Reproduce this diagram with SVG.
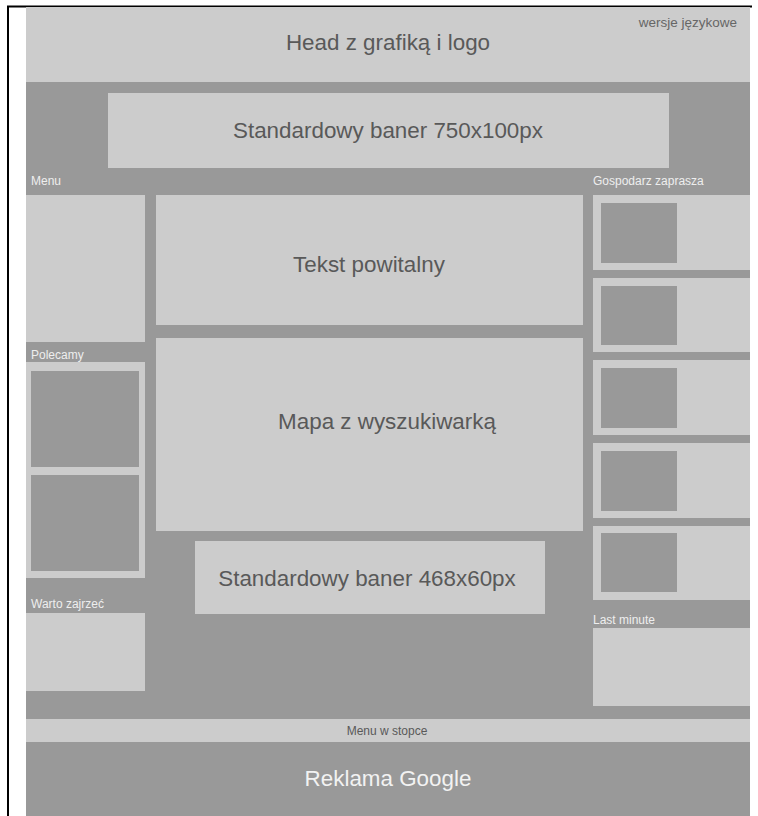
<svg xmlns="http://www.w3.org/2000/svg" width="758" height="816" viewBox="0 0 758 816">
<style>
.bg{fill:#999999}
.lt{fill:#cccccc}
.dk{fill:#999999}
.big{font-family:"Liberation Sans",Arial,sans-serif;font-size:22.4px;fill:#595959;text-anchor:middle}
.lbl{font-family:"Liberation Sans",Arial,sans-serif;font-size:12px;fill:#eeeeee}
.small{font-family:"Liberation Sans",Arial,sans-serif;font-size:12px;fill:#595959;text-anchor:middle}
</style>
<rect width="758" height="816" fill="#ffffff"/>
<rect x="26" y="7" width="724" height="809" class="bg"/>
<g id="border">
<line x1="8" y1="6" x2="8" y2="816" stroke="#000" stroke-width="2"/>
<line x1="7" y1="6.5" x2="752" y2="6.5" stroke="#000" stroke-width="2"/>
</g>
<g id="head">
<rect x="26" y="7" width="724" height="75" class="lt"/>
<text x="388" y="50" class="big">Head z grafiką i logo</text>
<text x="737" y="27" style="font-family:'Liberation Sans',Arial,sans-serif;font-size:13.5px;fill:#666666;text-anchor:end">wersje językowe</text>
</g>
<g id="banner750">
<rect x="108" y="93" width="561" height="75" class="lt"/>
<text x="388" y="138" class="big">Standardowy baner 750x100px</text>
</g>
<g id="menu">
<text x="31" y="185" class="lbl">Menu</text>
<rect x="26" y="195" width="119" height="147" class="lt"/>
</g>
<g id="tekst">
<rect x="156" y="195" width="427" height="130" class="lt"/>
<text x="369" y="272" class="big">Tekst powitalny</text>
</g>
<g id="mapa">
<rect x="156" y="338" width="427" height="193" class="lt"/>
<text x="387" y="429" class="big">Mapa z wyszukiwarką</text>
</g>
<g id="banner468">
<rect x="195" y="541" width="350" height="73" class="lt"/>
<text x="367" y="586" class="big">Standardowy baner 468x60px</text>
</g>
<g id="polecamy">
<text x="31" y="359" class="lbl">Polecamy</text>
<rect x="26" y="362" width="119" height="216" class="lt"/>
<rect x="31" y="371" width="108" height="96" class="dk"/>
<rect x="31" y="475" width="108" height="96" class="dk"/>
</g>
<g id="warto">
<text x="31" y="608" class="lbl">Warto zajrzeć</text>
<rect x="26" y="613" width="119" height="78" class="lt"/>
</g>
<g id="gospodarz">
<text x="593" y="185" class="lbl">Gospodarz zaprasza</text>
<rect x="593" y="195" width="157" height="75" class="lt"/>
<rect x="601" y="203" width="76" height="60" class="dk"/>
<rect x="593" y="278" width="157" height="74" class="lt"/>
<rect x="601" y="286" width="76" height="59" class="dk"/>
<rect x="593" y="360" width="157" height="75" class="lt"/>
<rect x="601" y="368" width="76" height="60" class="dk"/>
<rect x="593" y="443" width="157" height="75" class="lt"/>
<rect x="601" y="451" width="76" height="60" class="dk"/>
<rect x="593" y="526" width="157" height="74" class="lt"/>
<rect x="601" y="533" width="76" height="59" class="dk"/>
</g>
<g id="lastminute">
<text x="593" y="624" class="lbl">Last minute</text>
<rect x="593" y="628" width="157" height="78" class="lt"/>
</g>
<g id="stopka">
<rect x="26" y="719" width="724" height="23" class="lt"/>
<text x="387" y="735" class="small">Menu w stopce</text>
</g>
<g id="google">
<text x="388" y="786" class="big" style="fill:#f2f2f2">Reklama Google</text>
</g>
<g id="connectors"/>
</svg>
